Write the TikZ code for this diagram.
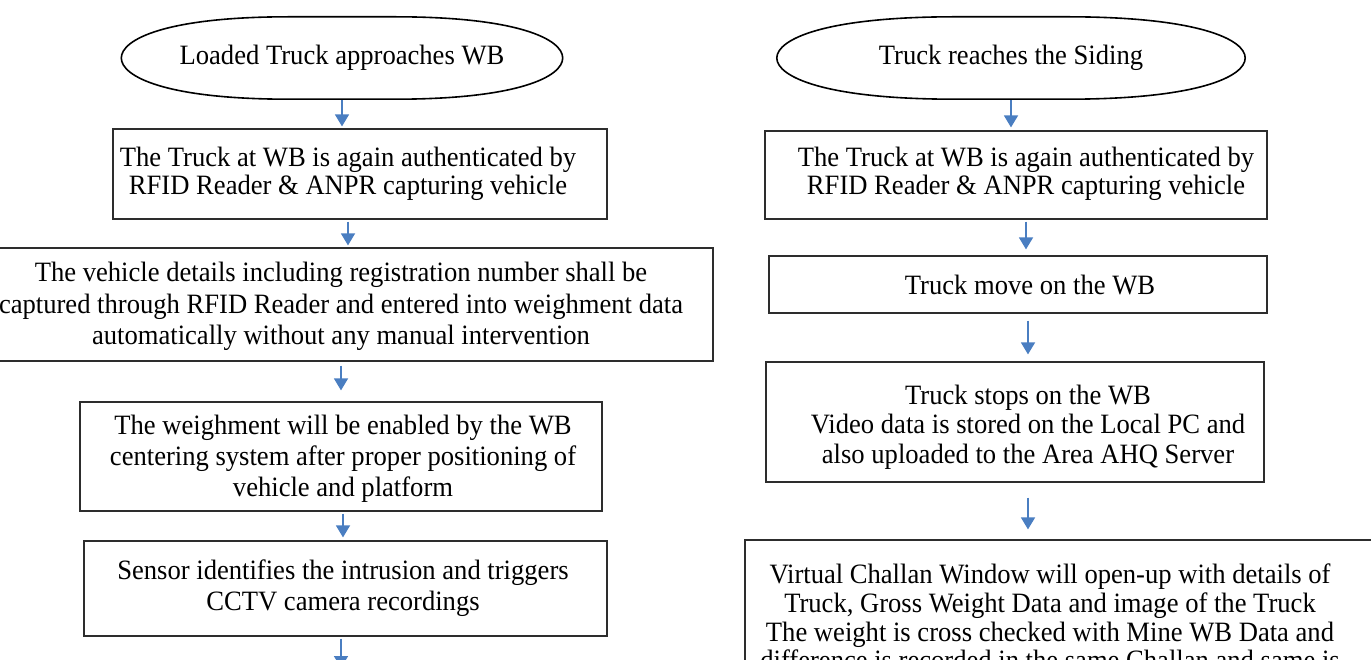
\documentclass[tikz,border=0pt]{standalone}
\usepackage{fontspec}
\setmainfont{Liberation Serif}[FakeStretch=0.95]
\usetikzlibrary{arrows.meta,calc}
\definecolor{flowblue}{RGB}{74,126,193}
\definecolor{framegray}{RGB}{45,45,45}

% Rounded terminator outline drawn around a (frameless) node
\newcommand\termoutline[1]{%
  \draw[outline]
    ($(#1.north west)!0.38!(#1.north east)$) -- ($(#1.north west)!0.62!(#1.north east)$)
    .. controls ($(#1.north west)!0.9!(#1.north east)$) and ($(#1.north east)!0.55!(#1.east)$) .. (#1.east)
    .. controls ($(#1.south east)!0.55!(#1.east)$) and ($(#1.south west)!0.9!(#1.south east)$) .. ($(#1.south west)!0.62!(#1.south east)$)
    -- ($(#1.south west)!0.38!(#1.south east)$)
    .. controls ($(#1.south west)!0.1!(#1.south east)$) and ($(#1.south west)!0.55!(#1.west)$) .. (#1.west)
    .. controls ($(#1.north west)!0.55!(#1.west)$) and ($(#1.north west)!0.1!(#1.north east)$) .. cycle;}

\tikzset{
  txt/.style={align=center, inner sep=0pt, font=\fontsize{28}{#1}\selectfont},
  txt/.default=30.5,
  boxframe/.style={draw=framegray, line width=1.2pt, inner sep=0pt},
  outline/.style={draw=black, line width=1.6pt},
  flow/.style={draw=flowblue, line width=1.6pt, -{Triangle[width=14pt,length=12pt]}},
}

\begin{document}
\begin{tikzpicture}[x=1pt,y=-1pt]
\useasboundingbox (0,0) rectangle (1371,660);
\clip (0,0) rectangle (1371,660);

% ---------------- left column ----------------
\node[txt, minimum width=441pt, minimum height=82pt] (s1) at (342,58) {Loaded Truck approaches WB};
\termoutline{s1}

\node[boxframe, minimum width=494pt, minimum height=90pt] (a1) at (360,174) {};
\node[txt=28] (a1t) at (348,174) {The Truck at WB is again authenticated by\\RFID Reader \& ANPR capturing vehicle};

\node[boxframe, minimum width=740pt, minimum height=113pt] (b1) at (343,304.5) {};
\node[txt=31.5] (b1t) at (341,306.5) {The vehicle details including registration number shall be\\captured through RFID Reader and entered into weighment data\\automatically without any manual intervention};

\node[boxframe, minimum width=522pt, minimum height=109pt] (c1) at (341,456.5) {};
\node[txt=31] (c1t) at (343,459) {The weighment will be enabled by the WB\\centering system after proper positioning of\\vehicle and platform};

\node[boxframe, minimum width=523pt, minimum height=95pt] (d1) at (345.5,588.5) {};
\node[txt=31] (d1t) at (343,588.5) {Sensor identifies the intrusion and triggers\\CCTV camera recordings};

\coordinate (endL) at (341,668);

\draw[flow, shorten <=1pt, shorten >=2pt] (s1.south) -- (s1.south |- a1.north);
\draw[flow, shorten <=2pt, shorten >=2pt] (a1t |- a1.south) -- (a1t |- b1.north);
\draw[flow, shorten <=4pt, shorten >=11pt] (b1t |- b1.south) -- (b1t |- c1.north);
\draw[flow, shorten <=2pt, shorten >=3pt] (c1t |- c1.south) -- (c1t |- d1.north);
\draw[flow, shorten <=2pt] (endL |- d1.south) -- (endL);

% ---------------- right column ----------------
\node[txt, minimum width=468pt, minimum height=82pt] (s2) at (1011,58) {Truck reaches the Siding};
\termoutline{s2}

\node[boxframe, minimum width=502pt, minimum height=88pt] (e1) at (1016,175) {};
\node[txt=28] (e1t) at (1026,174) {The Truck at WB is again authenticated by\\RFID Reader \& ANPR capturing vehicle};

\node[boxframe, minimum width=498pt, minimum height=57pt] (f1) at (1018,284.5) {};
\node[txt] (f1t) at (1030,285) {Truck move on the WB};

\node[boxframe, minimum width=498pt, minimum height=120pt] (g1) at (1015,422) {};
\node[txt=29.5] (g1t) at (1028,427) {Truck stops on the WB\\Video data is stored on the Local PC and\\also uploaded to the Area AHQ Server};

\node[boxframe, minimum width=655pt, minimum height=180pt] (h1) at (1072.5,630) {};
\node[txt=28.7] (h1t) at (1050,617) {Virtual Challan Window will open-up with details of\\Truck, Gross Weight Data and image of the Truck\\The weight is cross checked with Mine WB Data and\\difference is recorded in the same Challan and same is};

\draw[flow, shorten <=1pt, shorten >=3pt] (s2.south) -- (s2.south |- e1.north);
\draw[flow, shorten <=2pt, shorten >=6pt] (e1t |- e1.south) -- (e1t |- f1.north);
\draw[flow, shorten <=7pt, shorten >=7pt] (g1t |- f1.south) -- (g1t |- g1.north);
\draw[flow, shorten <=15pt, shorten >=10pt] (g1t |- g1.south) -- (g1t |- h1.north);
\end{tikzpicture}
\end{document}
